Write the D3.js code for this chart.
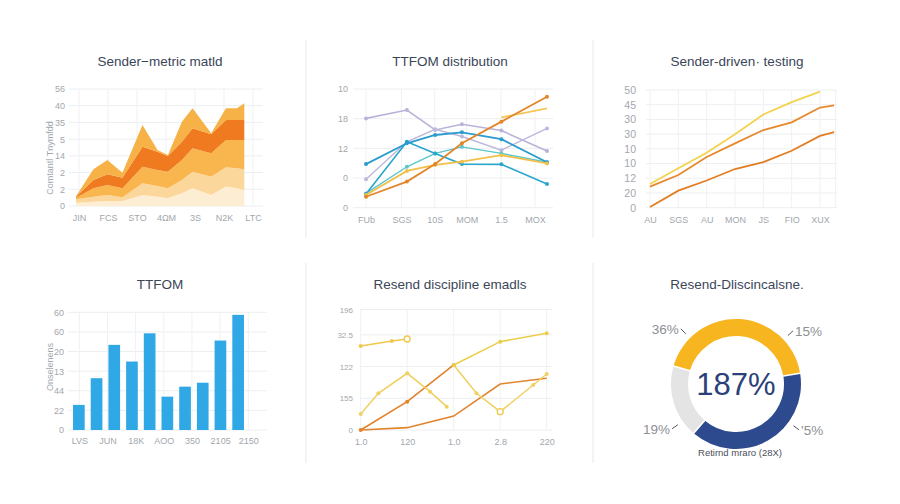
<!DOCTYPE html>
<html>
<head>
<meta charset="utf-8">
<script src="https://cdn.jsdelivr.net/npm/d3@7"></script>
<style>
  body { margin: 0; background: #fff; }
  svg { display: block; font-family: "Liberation Sans", Arial, sans-serif; }
  .tick text { fill: #a2a7ad; font-size: 9px; }
  .big .tick text { font-size: 10.5px; }
  .small .tick text { font-size: 8px; }
  .title { fill: #3b4658; font-size: 13.5px; text-anchor: middle; }
  .ytitle { fill: #a2a7ad; font-size: 9px; text-anchor: middle; }
</style>
</head>
<body>
<svg id="chart" width="900" height="504"></svg>
<script>
// ---- panel 1: stacked areas
var areaLabels = ["JIN", "FCS", "STO", "4ΩM", "3S", "N2K", "LTC"];
var areaYTicks = ["0", "2", "2", "14", "5", "35", "40", "56"];
var areaX = [0, 1.24, 2.24, 3.31, 4.74, 5.81, 6.55, 7.55, 8.31, 9.64, 10.69, 11.48, 12];
var areaL1 = [2, 2.6, 3, 3, 6.6, 5.6, 4.6, 7.6, 10.6, 6.6, 11.6, 10.6, 9.6];
var areaL2 = [2, 3, 3.6, 2.2, 7, 6.4, 6, 8, 9.9, 10.9, 11.6, 12, 12.4];
var areaL3 = [1, 5, 6, 5.4, 9.9, 9.5, 9.9, 11.9, 14, 14, 16.3, 16.9, 17.5];
var areaL4 = [0.5, 5, 6.4, 6.3, 12, 11, 9.4, 11, 12, 11.4, 12, 12, 12];
var areaL5 = [0.3, 6.4, 8.5, 3, 13, 1, 0.6, 11.9, 12, 0.6, 7, 7, 10];

// ---- panel 2: TTFOM distribution lines
var distLabels = ["FUb", "SGS", "10S", "MOM", "1.5", "MOX"];
var distLabelPos = [0, 0.98, 1.9, 2.78, 3.73, 4.67];
var distYTicks = ["0", "0", "12", "18", "10"];
var distX = [0, 1.13, 1.91, 2.65, 3.74, 5];
var distLavA = [30.1, 32.9, 26.2, 28.1, 26, 19.1];
var distLavB = [9.6, 22.2, 26.4, 24, 19.4, 26.7];
var distBlue = [14.7, 21.7, 24.5, 25.4, 23.1, 15.3];
var distTealA = [4.6, 22.2, 18.3, 14.7, 14.6, 8];
var distTealB = [4.8, 13.8, 18.3, 20.5, 18.3, 15.3];
var distGold = [4.3, 12.4, 14.4, 15.5, 17.7, 14.9];
var distGoldHi = [null, null, null, null, 30.4, 33.5];
var distOrange = [3.7, 8.8, 14.7, 21.7, 29, 37.4];

// ---- panel 3: sender-driven testing
var testLabels = ["AU", "SGS", "AU", "MON", "JS", "FIO", "XUX"];
var testYTicks = ["0", "20", "12", "10", "10", "30", "30", "45", "50"];
var testX = [0, 1, 2, 3, 4, 5, 6, 6.5];
var testYellow = [16.1, 26.8, 37.4, 50, 63.4, 71.8, 78.9, null];
var testOrangeHi = [14.3, 22.2, 34.5, 43.7, 52.8, 58, 68.1, 69.5];
var testOrangeLo = [0.5, 11.6, 18.5, 26.3, 31, 38.7, 48.8, 51.3];

// ---- panel 4: bars
var barLabels = ["LVS", "JUN", "18K", "AOO", "350", "2105", "2150"];
var barYTicks = ["0", "22", "44", "13", "20", "60", "60"];
var barIds = ["b0", "b1", "b2", "b3", "b4", "b5", "b6", "b7", "b8", "b9"];
var barValues = [12.8, 26.4, 43.4, 34.9, 49.3, 17, 22.1, 24.1, 45.6, 58.7];

// ---- panel 5: resend discipline
var resLabels = ["1.0", "120", "1.0", "2.8", "220"];
var resYTickVals = [0, 50, 100, 150, 190];
var resYTicks = ["0", "155", "122", "32.5", "196"];
var resShortX = [0, 0.67, 1];
var resShortY = [132.5, 140.4, 143.5];
var resZigX = [0, 0.38, 1, 1.49, 1.85];
var resZigY = [25.2, 57.9, 89.4, 60.4, 36.8];
var resDipX = [2, 2.49, 3, 3.71, 4];
var resDipY = [102.5, 57.9, 28.9, 71, 88.3];
var resUpX = [2, 3, 4];
var resUpY = [102.5, 139.3, 152.5];
var resOrgAX = [0, 1, 2];
var resOrgAY = [0, 44.6, 102.5];
var resOrgBX = [0, 1, 2, 3, 4];
var resOrgBY = [0, 3.7, 22, 72.5, 81.5];

// ---- panel 6: donut
var donutValues = [43, 39, 18];
var donutColors = ["#f7b51f", "#2e4a8f", "#e4e4e4"];
var donutLabels = ["36%", "15%", "19%", "'5%"];
var donutLabelAngles = [-45, 47, 235, 126];

var svg = d3.select("#chart");

function title(x, y, t) {
    svg.append("text").attr("class", "title").attr("x", x).attr("y", y).text(t);
}

function leftAxis(x, y, vals, labels, cls) {
    svg.append("g")
        .attr("class", cls || "")
        .attr("transform", "translate(" + x + ",0)")
        .call(d3.axisLeft(y).tickValues(vals).tickSize(0).tickPadding(4)
            .tickFormat(function (d, i) { return labels[i]; }))
        .call(function (a) { a.select(".domain").remove(); });
}

function bottomAxis(y0, scale, vals, labels, pad) {
    var ax = d3.axisBottom(scale).tickSize(0).tickPadding(pad);
    if (vals) ax.tickValues(vals);
    if (labels) ax.tickFormat(function (d, i) { return labels[i]; });
    svg.append("g")
        .attr("transform", "translate(0," + y0 + ")")
        .call(ax)
        .call(function (a) { a.select(".domain").remove(); });
}

function grid(x0, x1, ys, y0, y1, xs) {
    var g = svg.append("g");
    g.selectAll(".h").data(ys).enter().append("line")
        .attr("x1", x0).attr("x2", x1).attr("y1", function (d) { return d; }).attr("y2", function (d) { return d; })
        .attr("stroke", "#eceef1");
    g.selectAll(".v").data(xs).enter().append("line")
        .attr("y1", y0).attr("y2", y1).attr("x1", function (d) { return d; }).attr("x2", function (d) { return d; })
        .attr("stroke", "#f0f1f3");
}

function drawLine(x, y, xs, ys, color, width, dots) {
    var pts = xs.map(function (v, i) { return [v, ys[i]]; });
    var line = d3.line()
        .defined(function (d) { return d[1] != null; })
        .x(function (d) { return x(d[0]); })
        .y(function (d) { return y(d[1]); });
    svg.append("path").datum(pts)
        .attr("d", line).attr("fill", "none")
        .attr("stroke", color).attr("stroke-width", width);
    if (dots) {
        svg.append("g").selectAll("circle")
            .data(pts.filter(function (d) { return d[1] != null; }))
            .enter().append("circle")
            .attr("cx", function (d) { return x(d[0]); })
            .attr("cy", function (d) { return y(d[1]); })
            .attr("r", 2).attr("fill", color);
    }
}

// dividers
[[306, 40, 238], [306, 263, 463], [593, 40, 238], [593, 263, 463]].forEach(function (d) {
    svg.append("line").attr("x1", d[0]).attr("x2", d[0]).attr("y1", d[1]).attr("y2", d[2])
        .attr("stroke", "#f1f1f1").attr("stroke-width", 1.5);
});

// ================= panel 1
(function () {
    title(160, 66, "Sender\u2212metric matld");
    var x = d3.scaleLinear().domain([0, 12]).range([76, 244.3]);
    var xl = d3.scalePoint().domain(areaLabels).range([79, 253]);
    var y = d3.scaleLinear().domain([0, 70]).range([206, 89]);
    var ticks = d3.range(0, 71, 10);
    grid(69, 263, ticks.map(y), 89, 206, areaLabels.map(xl));
    leftAxis(69, y, ticks, areaYTicks);
    bottomAxis(206, xl, null, null, 9);
    svg.append("text").attr("class", "ytitle")
        .attr("transform", "translate(53,158) rotate(-90)")
        .text("Comtantl Tnymfdd");

    var rows = areaX.map(function (v, i) {
        return { x: v, a: areaL1[i], b: areaL2[i], c: areaL3[i], d: areaL4[i], e: areaL5[i] };
    });
    var stack = d3.stack().keys(["a", "b", "c", "d", "e"]);
    var colors = ["#fdedd3", "#fcd79c", "#f9b64e", "#f07a1f", "#f6b246"];
    var area = d3.area()
        .x(function (d) { return x(d.data.x); })
        .y0(function (d) { return y(d[0]); })
        .y1(function (d) { return y(d[1]); });
    svg.append("g").selectAll("path").data(stack(rows)).enter().append("path")
        .attr("d", area)
        .attr("fill", function (d, i) { return colors[i]; });
})();

// ================= panel 2
(function () {
    title(450, 66, "TTFOM distribution");
    var x = d3.scaleLinear().domain([0, 5]).range([366, 547]);
    var y = d3.scaleLinear().domain([0, 40]).range([207.7, 89]);
    var ticks = [0, 10, 20, 30, 40];
    grid(353, 553, ticks.map(y), 89, 207.7, distLabelPos.map(x));
    leftAxis(352, y, ticks, distYTicks);
    bottomAxis(207.7, x, distLabelPos, distLabels, 9);

    drawLine(x, y, distX, distLavA, "#b8b3d9", 1.6, true);
    drawLine(x, y, distX, distLavB, "#bdb8dc", 1.4, true);
    drawLine(x, y, distX, distTealB, "#5cc6c9", 1.4, true);
    drawLine(x, y, distX, distTealA, "#2ba6cc", 1.6, true);
    drawLine(x, y, distX, distBlue, "#2a9bcf", 1.8, true);
    drawLine(x, y, distX, distGold, "#f3c04a", 1.8, true);
    drawLine(x, y, distX, distGoldHi, "#f4c75a", 1.8, false);
    drawLine(x, y, distX, distOrange, "#e3862a", 1.8, true);
})();

// ================= panel 3
(function () {
    title(737, 66, "Sender-driven\u00b7 testing");
    var x = d3.scaleLinear().domain([0, 6]).range([650, 820]);
    var y = d3.scaleLinear().domain([0, 80]).range([207.7, 90]);
    var ticks = d3.range(0, 81, 10);
    grid(646, 837, ticks.map(y), 90, 207.7, d3.range(0, 7).map(x).concat([x(6.55)]));
    leftAxis(640, y, ticks, testYTicks, "big");
    bottomAxis(207.7, x, d3.range(0, 7), testLabels, 9);

    drawLine(x, y, testX, testYellow, "#f2d24e", 1.8, false);
    drawLine(x, y, testX, testOrangeHi, "#e8882c", 1.8, false);
    drawLine(x, y, testX, testOrangeLo, "#e27d22", 1.8, false);
})();

// ================= panel 4
(function () {
    title(160, 289, "TTFOM");
    var x = d3.scaleBand().domain(barIds).range([67, 250]).padding(0.34);
    var xl = d3.scalePoint().domain(barLabels).range([79.3, 248.3]);
    var y = d3.scaleLinear().domain([0, 60]).range([430, 312.3]);
    var ticks = d3.range(0, 61, 10);
    grid(68, 267, ticks.map(y), 312.3, 430, barLabels.map(xl));
    leftAxis(68, y, ticks, barYTicks);
    bottomAxis(430, xl, null, null, 8);
    svg.append("text").attr("class", "ytitle")
        .attr("transform", "translate(53,367) rotate(-90)")
        .text("Onselenens");

    svg.append("g").selectAll("rect").data(barValues).enter().append("rect")
        .attr("x", function (d, i) { return x(barIds[i]); })
        .attr("width", x.bandwidth())
        .attr("y", function (d) { return y(d); })
        .attr("height", function (d) { return y(0) - y(d); })
        .attr("fill", "#31a8e6");
})();

// ================= panel 5
(function () {
    title(450, 289, "Resend discipline emadls");
    var x = d3.scaleLinear().domain([0, 4]).range([360.7, 546.7]);
    var y = d3.scaleLinear().domain([0, 190]).range([430, 309.5]);
    grid(360, 552, resYTickVals.map(y), 309.5, 430, d3.range(0, 5).map(x));
    leftAxis(357, y, resYTickVals, resYTicks, "small");
    bottomAxis(430, x, d3.range(0, 5), resLabels, 9);

    drawLine(x, y, resOrgBX, resOrgBY, "#e0852e", 1.6, false);
    drawLine(x, y, resOrgAX, resOrgAY, "#e2822a", 1.6, true);
    drawLine(x, y, resShortX, resShortY, "#efc84e", 1.6, true);
    drawLine(x, y, resZigX, resZigY, "#f0d060", 1.5, true);
    drawLine(x, y, resDipX, resDipY, "#efd060", 1.5, true);
    drawLine(x, y, resUpX, resUpY, "#eccd4a", 1.6, true);
    // open end markers
    [[1, resShortY[2]], [3, resDipY[2]]].forEach(function (p) {
        svg.append("circle").attr("cx", x(p[0])).attr("cy", y(p[1])).attr("r", 3)
            .attr("fill", "#fff").attr("stroke", "#efc84e").attr("stroke-width", 1.3);
    });
})();

// ================= panel 6
(function () {
    title(737, 289, "Resend-Dliscincalsne.");
    var cx = 736, cy = 384;
    var start = -74 * Math.PI / 180;
    var pie = d3.pie().sort(null).startAngle(start).endAngle(start + 2 * Math.PI).padAngle(0.02);
    var arc = d3.arc().innerRadius(48).outerRadius(65);
    var g = svg.append("g").attr("transform", "translate(" + cx + "," + cy + ")");
    g.selectAll("path").data(pie(donutValues)).enter().append("path")
        .attr("d", arc)
        .attr("fill", function (d, i) { return donutColors[i]; });

    g.append("text").attr("text-anchor", "middle").attr("y", 11)
        .attr("font-size", "31px").attr("fill", "#2b3f7a")
        .text("187%");
    g.append("text").attr("text-anchor", "middle").attr("x", 4).attr("y", 72)
        .attr("font-size", "9.5px").attr("fill", "#4a4f5a")
        .text("Retirnd mraro (28X)");

    donutLabels.forEach(function (t, i) {
        var a = donutLabelAngles[i] * Math.PI / 180;
        var sx = Math.sin(a), sy = -Math.cos(a);
        var r1 = 71, r2 = 78;
        g.append("line")
            .attr("x1", sx * r1).attr("y1", sy * r1)
            .attr("x2", sx * r2).attr("y2", sy * r2)
            .attr("stroke", "#555").attr("stroke-width", 1);
        g.append("text")
            .attr("x", sx * r2 + (sx < 0 ? -2 : 2))
            .attr("y", sy * r2 + 5)
            .attr("text-anchor", sx < 0 ? "end" : "start")
            .attr("font-size", "13.5px").attr("fill", "#8d8f94")
            .text(t);
    });
})();
</script>
</body>
</html>
